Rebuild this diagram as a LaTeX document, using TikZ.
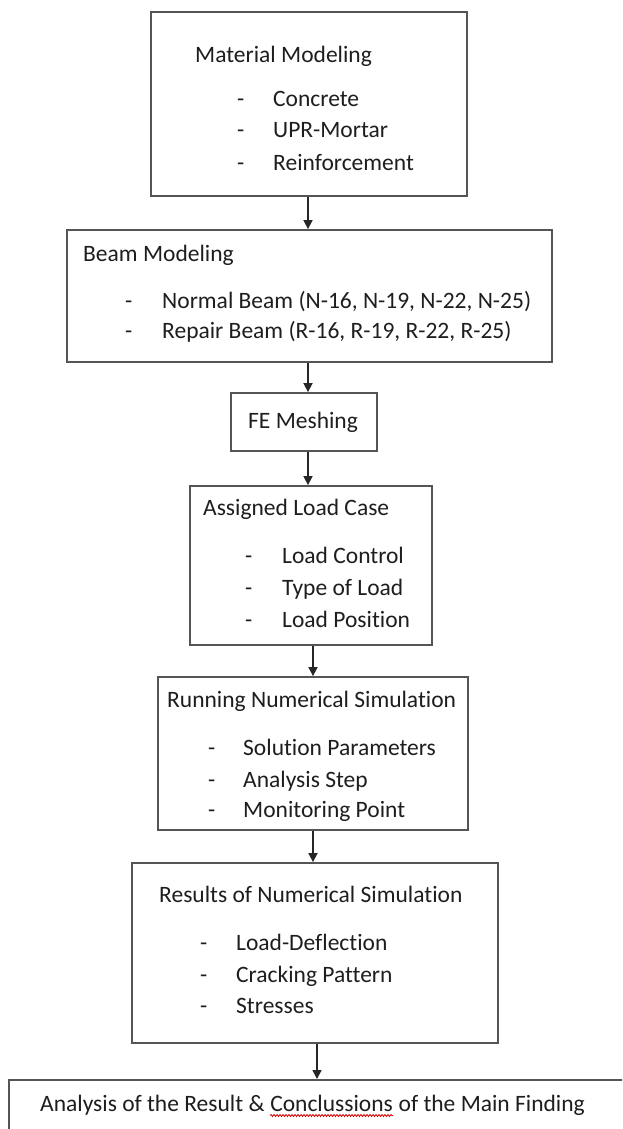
\documentclass[tikz,border=0pt]{standalone}
\usepackage{fontspec}
\setmainfont{Carlito}[Ligatures=NoCommon]
\usetikzlibrary{arrows.meta,decorations.pathmorphing}
\definecolor{boxline}{RGB}{85,85,85}
\definecolor{txt}{RGB}{30,30,30}
\tikzset{
 box/.style={draw=boxline, line width=1.8pt, rectangle, inner sep=0pt},
 lbl/.style={anchor=base west, inner sep=0pt, text=txt, font=\fontsize{23.5}{31.7}\selectfont},
 arr/.style={draw=black!85, line width=1.6pt, -{Triangle[width=9pt,length=9pt]}},
 squig/.style={draw=red!85!black, line width=0.8pt, decorate, decoration={snake, amplitude=1pt, segment length=3pt}},
}
\begin{document}
\begin{tikzpicture}[x=1pt,y=-1pt]
\fill[white] (0,0) rectangle (622,1129);
\useasboundingbox (0,0) rectangle (622,1129);
\clip (0,0) rectangle (622,1129);
% boxes
\node[box, minimum width=316pt, minimum height=184pt] (b1) at (309,104) {};
\node[box, minimum width=485pt, minimum height=132pt] (b2) at (309.5,296) {};
\node[box, minimum width=146pt, minimum height=58pt] (b3) at (304,422) {};
\node[box, minimum width=242pt, minimum height=159pt] (b4) at (311,565.5) {};
\node[box, minimum width=310pt, minimum height=153pt] (b5) at (313,753.5) {};
\node[box, minimum width=366pt, minimum height=180pt] (b6) at (315,953) {};
\node[box, minimum width=640pt, minimum height=80pt, anchor=north west] (b7) at (8,1079) {};
% box 1
\node[lbl] (t1) at (195,63) {Material Modeling};
\node[lbl] (d11) at (237,107) {-};
\node[lbl] (i11) at (273,107) {Concrete};
\node[lbl] (d12) at (237,138) {-};
\node[lbl] (i12) at (273,138) {UPR-Mortar};
\node[lbl] (d13) at (237,170) {-};
\node[lbl] (i13) at (273,170) {Reinforcement};
% box 2
\node[lbl] (t2) at (83,261) {Beam Modeling};
\node[lbl] (d21) at (125,308) {-};
\node[lbl] (i21) at (162,308) {Normal Beam (N-16, N-19, N-22, N-25)};
\node[lbl] (d22) at (125,338) {-};
\node[lbl] (i22) at (162,338) {Repair Beam (R-16, R-19, R-22, R-25)};
% box 3
\node[lbl] (t3) at (248,428) {FE Meshing};
% box 4
\node[lbl] (t4) at (203,515) {Assigned Load Case};
\node[lbl] (d41) at (245,563) {-};
\node[lbl] (i41) at (282,563) {Load Control};
\node[lbl] (d42) at (245,595) {-};
\node[lbl] (i42) at (282,595) {Type of Load};
\node[lbl] (d43) at (245,627) {-};
\node[lbl] (i43) at (282,627) {Load Position};
% box 5
\node[lbl] (t5) at (167,707) {Running Numerical Simulation};
\node[lbl] (d51) at (208,755) {-};
\node[lbl] (i51) at (243,755) {Solution Parameters};
\node[lbl] (d52) at (208,787) {-};
\node[lbl] (i52) at (243,787) {Analysis Step};
\node[lbl] (d53) at (208,817) {-};
\node[lbl] (i53) at (243,817) {Monitoring Point};
% box 6
\node[lbl] (t6) at (159,902) {Results of Numerical Simulation};
\node[lbl] (d61) at (200,950) {-};
\node[lbl] (i61) at (236,950) {Load-Deflection};
\node[lbl] (d62) at (200,982) {-};
\node[lbl] (i62) at (236,982) {Cracking Pattern};
\node[lbl] (d63) at (200,1013) {-};
\node[lbl] (i63) at (236,1013) {Stresses};
% box 7
\node[lbl] (t7a) at (40,1111) {Analysis of the Result \&\ \mbox{}};
\node[lbl] (t7b) at (t7a.base east) {Conclussions};
\node[lbl] (t7c) at (t7b.base east) {\mbox{}\ of the Main Finding};
\draw[squig] ([yshift=-4.5pt]t7b.base west) -- ([yshift=-4.5pt]t7b.base east);
% arrows
\coordinate (ax1) at (308,0);
\coordinate (ax2) at (313,0);
\coordinate (ax3) at (317,0);
\draw[arr] (b1.south -| ax1) -- (b2.north -| ax1);
\draw[arr] (b2.south -| ax1) -- (b3.north -| ax1);
\draw[arr] (b3.south -| ax1) -- (b4.north -| ax1);
\draw[arr] (b4.south -| ax2) -- (b5.north -| ax2);
\draw[arr] (b5.south -| ax2) -- (b6.north -| ax2);
\draw[arr] (b6.south -| ax3) -- (b7.north -| ax3);
\end{tikzpicture}
\end{document}
